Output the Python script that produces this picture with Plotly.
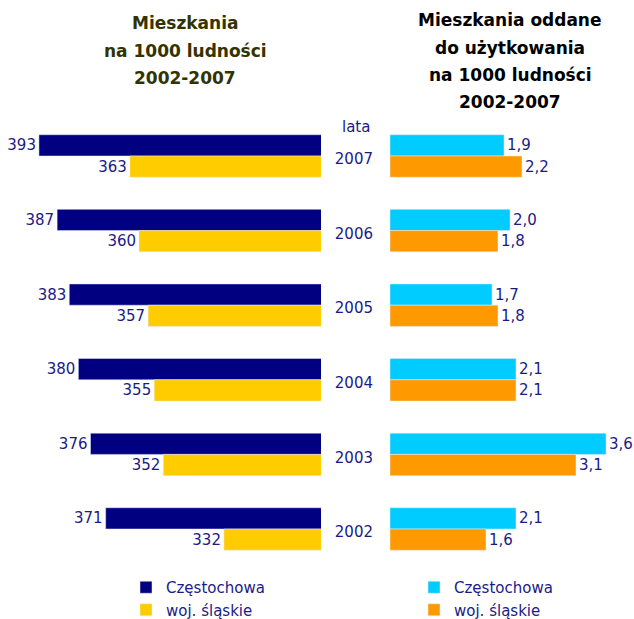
import plotly.graph_objects as go

# dane
years = ['2007', '2006', '2005', '2004', '2003', '2002']
stock_czest = [393, 387, 383, 380, 376, 371]
stock_slask = [363, 360, 357, 355, 352, 332]
new_czest = [1.9, 2.0, 1.7, 2.1, 3.6, 2.1]
new_slask = [2.2, 1.8, 1.8, 2.1, 3.1, 1.6]

W, H = 634, 619
label_color = '#1b1b86'
font_family = 'DejaVu Sans, Verdana, sans-serif'


def px_x(px):
    return px / W


def px_y(px):
    return 1 - px / H


fig = go.Figure()

# lewy panel: mieszkania na 1000 ludnosci
fig.add_trace(go.Bar(
    y=years, x=stock_czest, orientation='h',
    name='Częstochowa', marker_color='#000080',
    xaxis='x', yaxis='y', legend='legend',
    text=[str(v) for v in stock_czest], textposition='outside',
    textfont=dict(color=label_color, size=15), constraintext='none',
    cliponaxis=True,
))
fig.add_trace(go.Bar(
    y=years, x=stock_slask, orientation='h',
    name='woj. śląskie', marker_color='#ffcc00',
    xaxis='x', yaxis='y', legend='legend',
    text=[str(v) for v in stock_slask], textposition='outside',
    textfont=dict(color=label_color, size=15), constraintext='none',
    cliponaxis=True,
))

# prawy panel: mieszkania oddane do uzytkowania
fig.add_trace(go.Bar(
    y=years, x=new_czest, orientation='h',
    name='Częstochowa', marker_color='#00ccff',
    xaxis='x2', yaxis='y2', legend='legend2',
    texttemplate='%{x:.1f}', textposition='outside',
    textfont=dict(color=label_color, size=15), constraintext='none',
    cliponaxis=False,
))
fig.add_trace(go.Bar(
    y=years, x=new_slask, orientation='h',
    name='woj. śląskie', marker_color='#ff9900',
    xaxis='x2', yaxis='y2', legend='legend2',
    texttemplate='%{x:.1f}', textposition='outside',
    textfont=dict(color=label_color, size=15), constraintext='none',
    cliponaxis=False,
))

ydom = [px_y(566.3), px_y(118.7)]
hidden = dict(showgrid=False, zeroline=False, showline=False, ticks='')
scale_left = 3.033   # px na jednostke
scale_right = 60.0

fig.update_layout(
    width=W, height=H,
    margin=dict(l=0, r=0, t=0, b=0, autoexpand=False),
    paper_bgcolor='white', plot_bgcolor='white',
    separators=', ',
    font=dict(family=font_family, size=15, color=label_color),
    barmode='group', bargap=0.43, bargroupgap=0,
    xaxis=dict(domain=[0, px_x(321)], anchor='y', showticklabels=False,
               range=[300 + 321 / scale_left, 300], **hidden),
    xaxis2=dict(domain=[px_x(390), 1], anchor='y2', showticklabels=False,
                range=[0, (634 - 390) / scale_right], **hidden),
    yaxis=dict(domain=ydom, anchor='x', autorange='reversed',
               type='category', showticklabels=False, **hidden),
    # lata jako etykiety osi prawego panelu
    yaxis2=dict(domain=ydom, anchor='x2', autorange='reversed',
                type='category', showticklabels=True, ticklabelstandoff=16,
                ticklabelshift=-3,
                tickfont=dict(size=15, color=label_color), **hidden),
    legend=dict(x=px_x(126), y=px_y(571), xanchor='left', yanchor='top',
                font=dict(size=15, color=label_color), bgcolor='rgba(0,0,0,0)'),
    legend2=dict(x=px_x(414), y=px_y(571), xanchor='left', yanchor='top',
                 font=dict(size=15, color=label_color), bgcolor='rgba(0,0,0,0)'),
)

# tytuly
left_title = ['Mieszkania', 'na 1000 ludności', '2002-2007']
left_title_y = [23, 51, 78]
for line, yy in zip(left_title, left_title_y):
    fig.add_annotation(text='<b>%s</b>' % line, x=px_x(185), y=px_y(yy),
                       xref='paper', yref='paper', showarrow=False,
                       xanchor='center', yanchor='middle',
                       font=dict(size=17, color='#333300'))

right_title = ['Mieszkania oddane', 'do użytkowania', 'na 1000 ludności', '2002-2007']
right_title_y = [20, 48, 75, 102]
for line, yy in zip(right_title, right_title_y):
    fig.add_annotation(text='<b>%s</b>' % line, x=px_x(510), y=px_y(yy),
                       xref='paper', yref='paper', showarrow=False,
                       xanchor='center', yanchor='middle',
                       font=dict(size=17, color='black'))

fig.add_annotation(text='lata', x=px_x(356), y=px_y(127), xref='paper', yref='paper',
                   showarrow=False, xanchor='center', yanchor='middle',
                   font=dict(size=15, color=label_color))

# bez domyslnego marginesu strony wykres wypelnia cale okno
fig.write_html("out.html", config={'displayModeBar': False},
               post_script="document.body.style.margin = '0';")
